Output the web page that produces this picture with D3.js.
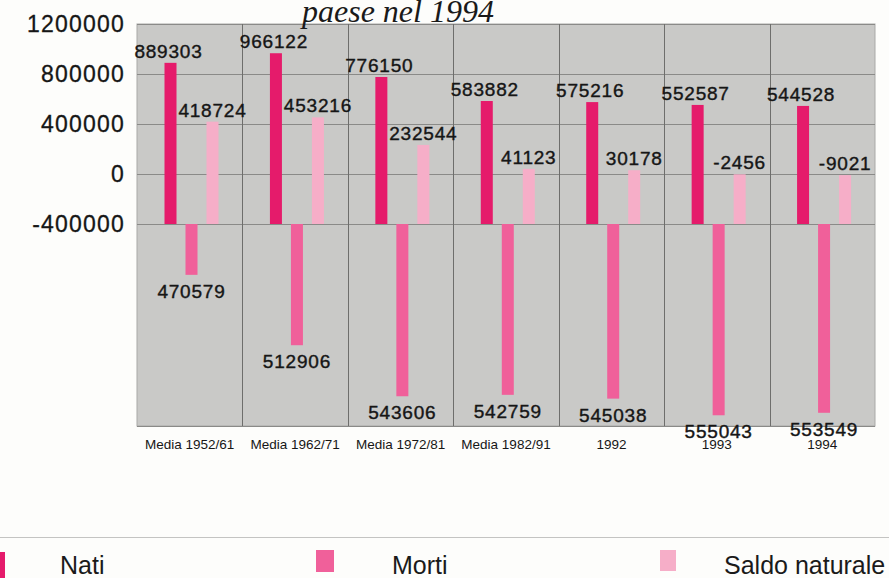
<!DOCTYPE html>
<html>
<head>
<meta charset="utf-8">
<script src="https://cdn.jsdelivr.net/npm/d3@7/dist/d3.min.js"></script>
<style>
  html, body { margin: 0; padding: 0; background: #fdfdfb; }
  svg { display: block; }
</style>
</head>
<body>
<svg id="chart" width="889" height="578"></svg>
<script>
// ---- data ----
const categories = ["Media 1952/61", "Media 1962/71", "Media 1972/81", "Media 1982/91", "1992", "1993", "1994"];
const nati  = [889303, 966122, 776150, 583882, 575216, 552587, 544528];
const morti = [470579, 512906, 543606, 542759, 545038, 555043, 553549];
const saldo = [418724, 453216, 232544, 41123, 30178, -2456, -9021];
const yTicks = [1200000, 800000, 400000, 0, -400000];
const seriesNames = ["Nati", "Morti", "Saldo naturale"];
const titleText = "paese nel 1994";

// ---- layout ----
const W = 889, H = 578;
const plot = { left: 137, right: 875, top: 24, base: 224, bottom: 426 };
const colors = { "Nati": "#e51b6b", "Morti": "#f0609a", "Saldo naturale": "#f6aec8" };

const svg = d3.select("#chart");

const x = d3.scaleBand().domain(categories).range([plot.left, plot.right]);
const inner = d3.scaleBand().domain(seriesNames).range([23, 86]);
const barW = 12;
const y = d3.scaleLinear().domain([-400000, 1200000]).range([plot.base, plot.top]);
// deaths are drawn downward from the -400000 baseline on their own scale
const yM = d3.scaleLinear().domain([440000, 561500]).range([plot.base, plot.bottom]);

// plot background
svg.append("rect")
  .attr("x", plot.left).attr("y", plot.top)
  .attr("width", plot.right - plot.left).attr("height", plot.bottom - plot.top)
  .attr("fill", "#c9c9c7").attr("stroke", "#a9a9a7").attr("stroke-width", 1);

// horizontal grid
svg.append("g").selectAll("line").data(yTicks).join("line")
  .attr("x1", plot.left).attr("x2", plot.right)
  .attr("y1", d => Math.round(y(d)) + 0.5).attr("y2", d => Math.round(y(d)) + 0.5)
  .attr("stroke", "#8a8a88").attr("stroke-width", 1);

// vertical grid
svg.append("g").selectAll("line").data(categories.slice(1)).join("line")
  .attr("x1", d => Math.round(x(d)) + 0.5).attr("x2", d => Math.round(x(d)) + 0.5)
  .attr("y1", plot.top).attr("y2", plot.bottom)
  .attr("stroke", "#6e6e6c").attr("stroke-width", 1);

// bottom border
svg.append("line")
  .attr("x1", plot.left).attr("x2", plot.right)
  .attr("y1", plot.bottom + 0.5).attr("y2", plot.bottom + 0.5)
  .attr("stroke", "#8a8a88");

// y-axis labels
const yAxis = d3.axisLeft(y).tickValues(yTicks).tickSize(0).tickPadding(12).tickFormat(d => String(d));
const ya = svg.append("g").attr("transform", `translate(${plot.left},0)`).call(yAxis);
ya.select(".domain").remove();
ya.selectAll("text")
  .attr("font-family", "'Liberation Sans', Arial, sans-serif")
  .attr("font-size", 23).attr("letter-spacing", 1.2).attr("fill", "#161616")
  .attr("stroke", "#161616").attr("stroke-width", 0.3);

// category axis labels
const xAxis = d3.axisBottom(x).tickSize(0).tickPadding(0);
const xa = svg.append("g").attr("transform", `translate(0,${plot.bottom})`).call(xAxis);
xa.select(".domain").remove();
xa.selectAll("text")
  .attr("y", 23).attr("dy", 0)
  .attr("font-family", "'Liberation Sans', Arial, sans-serif")
  .attr("font-size", 13.5).attr("fill", "#161616");

const rows = categories.map((c, i) => ({ c, nati: nati[i], morti: morti[i], saldo: saldo[i] }));
const cx = (c, s) => x(c) + inner(s) + inner.bandwidth() / 2;

// Nati bars
svg.append("g").selectAll("rect").data(rows).join("rect")
  .attr("x", d => cx(d.c, "Nati") - barW / 2).attr("width", barW)
  .attr("y", d => y(d.nati)).attr("height", d => plot.base - y(d.nati))
  .attr("fill", colors["Nati"]);

// Saldo bars
svg.append("g").selectAll("rect").data(rows).join("rect")
  .attr("x", d => cx(d.c, "Saldo naturale") - barW / 2).attr("width", barW)
  .attr("y", d => y(d.saldo)).attr("height", d => plot.base - y(d.saldo))
  .attr("fill", colors["Saldo naturale"]);

// Morti bars
svg.append("g").selectAll("rect").data(rows).join("rect")
  .attr("x", d => cx(d.c, "Morti") - barW / 2).attr("width", barW)
  .attr("y", plot.base).attr("height", d => yM(d.morti) - plot.base)
  .attr("fill", colors["Morti"]);

const labelStyle = sel => sel
  .attr("font-family", "'Liberation Sans', Arial, sans-serif")
  .attr("font-size", 19).attr("letter-spacing", 0.8)
  .attr("text-anchor", "middle").attr("fill", "#161616")
  .attr("stroke", "#161616").attr("stroke-width", 0.4);

svg.append("g").selectAll("text").data(rows).join("text")
  .attr("x", d => cx(d.c, "Nati") - 2).attr("y", d => y(d.nati) - 5)
  .text(d => d.nati).call(labelStyle);

svg.append("g").selectAll("text").data(rows).join("text")
  .attr("x", d => cx(d.c, "Saldo naturale")).attr("y", d => y(d.saldo) - 5)
  .text(d => d.saldo).call(labelStyle);

svg.append("g").selectAll("text").data(rows).join("text")
  .attr("x", d => cx(d.c, "Morti")).attr("y", d => yM(d.morti) + 23)
  .text(d => d.morti).call(labelStyle);

// title (partially cut off at the top)
svg.append("text")
  .attr("x", 302).attr("y", 22)
  .attr("font-family", "'Liberation Serif', 'Times New Roman', serif")
  .attr("font-style", "italic").attr("font-size", 32).attr("fill", "#1a1a1a")
  .text(titleText);

// legend
svg.append("line").attr("x1", 0).attr("x2", W).attr("y1", 537.5).attr("y2", 537.5)
  .attr("stroke", "#c4c4c2").attr("stroke-width", 1.2);

const legendPos = { "Nati": { sx: -8, sw: 13, sy: 552, sh: 28, tx: 60 },
                    "Morti": { sx: 316, sw: 18, sy: 550, sh: 22, tx: 392 },
                    "Saldo naturale": { sx: 660, sw: 16, sy: 550, sh: 21, tx: 724 } };
const lg = svg.append("g").selectAll("g").data(seriesNames).join("g");
lg.append("rect")
  .attr("x", d => legendPos[d].sx).attr("y", d => legendPos[d].sy)
  .attr("width", d => legendPos[d].sw).attr("height", d => legendPos[d].sh)
  .attr("fill", d => colors[d]);
lg.append("text")
  .attr("x", d => legendPos[d].tx).attr("y", 574)
  .attr("font-family", "'Liberation Sans', Arial, sans-serif")
  .attr("font-size", 25).attr("fill", "#1a1a1a")
  .text(d => d);
</script>
</body>
</html>
